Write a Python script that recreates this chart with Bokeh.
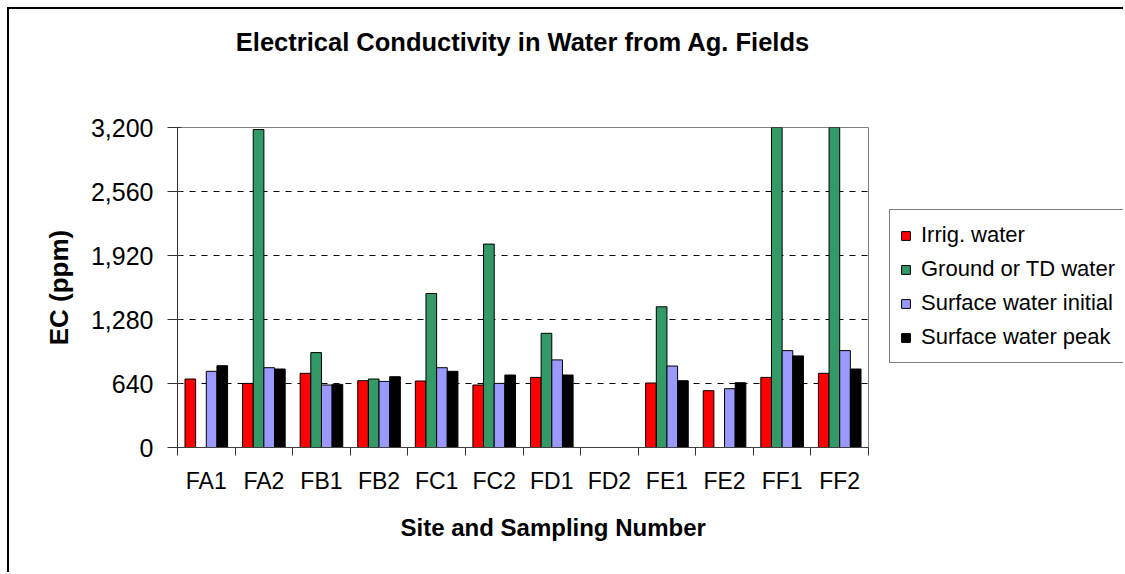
from bokeh.plotting import figure
from bokeh.layouts import row
from bokeh.models import (Range1d, FixedTicker, NumeralTickFormatter, Legend, LegendItem,
                          ColumnDataSource, LinearAxis, Title)
from bokeh.embed import file_html
from bokeh.resources import INLINE

sites = ["FA1", "FA2", "FB1", "FB2", "FC1", "FC2", "FD1", "FD2", "FE1", "FE2", "FF1", "FF2"]
irrig_water = [685, 641, 742, 668, 665, 625, 701, None, 645, 568, 701, 742]
ground_td_water = [None, 3180, 949, 685, 1540, 2034, 1142, None, 1407, None, 4000, 4000]
surface_initial = [762, 798, 625, 661, 798, 641, 876, None, 815, 588, 969, 969]
surface_peak = [818, 785, 631, 708, 762, 725, 725, None, 668, 648, 916, 785]

series_names = ["Irrig. water", "Ground or TD water", "Surface water initial", "Surface water peak"]
series_values = [irrig_water, ground_td_water, surface_initial, surface_peak]
series_colors = ["#FF0000", "#339966", "#9999FF", "#000000"]
y_ticks = [0, 640, 1280, 1920, 2560, 3200]

TITLE = "Electrical Conductivity in Water from Ag. Fields"
X_TITLE = "Site and Sampling  Number"
Y_TITLE = "EC (ppm)"
FONT = "Liberation Sans"
BAR_W = 0.185
offsets = [-1.5 * BAR_W, -0.5 * BAR_W, 0.5 * BAR_W, 1.5 * BAR_W]

H = 563
p = figure(width=880, height=H, output_backend="svg", toolbar_location=None,
           x_range=Range1d(0, len(sites)), y_range=Range1d(0, 3200),
           min_border_left=168, min_border_right=21, min_border_top=118, min_border_bottom=125)
p.title.text = ""
p.title.visible = False
p.background_fill_color = "white"
p.border_fill_color = "white"
p.outline_line_color = "#808080"
p.outline_line_width = 1

for name, vals, col, off in zip(series_names, series_values, series_colors, offsets):
    xs = [i + 0.5 + off for i, v in enumerate(vals) if v is not None]
    tops = [v for v in vals if v is not None]
    src = ColumnDataSource(dict(x=xs, top=tops))
    p.vbar(x="x", top="top", width=BAR_W, bottom=0, source=src,
           fill_color=col, line_color="black", line_width=1)

# grid
p.xgrid.visible = False
p.ygrid.ticker = FixedTicker(ticks=y_ticks[1:-1])
p.ygrid.grid_line_color = "black"
p.ygrid.grid_line_dash = "6 6"
p.ygrid.grid_line_width = 1

# y axis
ya = p.left[0]
ya.ticker = FixedTicker(ticks=y_ticks)
ya.formatter = NumeralTickFormatter(format="0,0")
ya.major_tick_out = 10
ya.major_tick_in = 4
ya.minor_tick_line_color = None
ya.axis_line_color = "#333333"
ya.major_tick_line_color = "#333333"
ya.major_label_text_font = FONT
ya.major_label_text_font_size = "25px"
ya.major_label_text_color = "black"
ya.major_label_standoff = 14
ya.axis_label = Y_TITLE
ya.axis_label_text_font = FONT
ya.axis_label_text_font_size = "26px"
ya.axis_label_text_font_style = "bold"
ya.axis_label_text_color = "black"
ya.axis_label_standoff = 14

# x axis
xa = p.below[0]
centers = [i + 0.5 for i in range(len(sites))]
xa.ticker = FixedTicker(ticks=centers, minor_ticks=list(range(len(sites) + 1)))
xa.major_label_overrides = {c: s for c, s in zip(centers, sites)}
xa.major_tick_line_color = None
xa.major_tick_out = 0
xa.major_tick_in = 0
xa.minor_tick_out = 8
xa.minor_tick_in = 0
xa.minor_tick_line_color = "#333333"
xa.axis_line_color = "#404040"
xa.major_label_text_font = FONT
xa.major_label_text_font_size = "23px"
xa.major_label_text_color = "black"
xa.major_label_standoff = 12

# x-axis title (placed slightly right of centre, as in the original)
x_title = Title(text=X_TITLE, align="left", offset=223, vertical_align="middle", standoff=32,
                text_font=FONT, text_font_size="24px", text_font_style="bold", text_color="black")
p.add_layout(x_title, "below")

# chart title drawn as the label of an empty axis above the plot area
top_axis = LinearAxis(ticker=FixedTicker(ticks=[]), axis_line_color=None,
                      major_tick_line_color=None, minor_tick_line_color=None,
                      major_tick_out=0, major_tick_in=0, minor_tick_out=0, minor_tick_in=0,
                      major_label_text_font_size="0px",
                      axis_label=TITLE, axis_label_text_font=FONT,
                      axis_label_text_font_size="25.5px", axis_label_text_font_style="bold",
                      axis_label_text_color="black", axis_label_standoff=72)
p.add_layout(top_axis, "above")

# legend panel: a second figure holding only the legend (cut at the right edge as in the original)
p2 = figure(width=234, height=H, output_backend="svg", toolbar_location=None,
            x_range=Range1d(0, 1), y_range=Range1d(0, 1), x_axis_type=None, y_axis_type=None,
            min_border=0, min_border_left=0, min_border_right=0, min_border_top=0, min_border_bottom=0)
p2.title.visible = False
p2.outline_line_color = None
p2.grid.visible = False
p2.background_fill_color = "white"
p2.border_fill_color = "white"
items = []
for name, col in zip(series_names, series_colors):
    # off-screen placeholder so the legend can show the series swatch
    r = p2.vbar(x=[5], top=[0], width=0.1, fill_color=col, line_color="black", line_width=1)
    items.append(LegendItem(label=name, renderers=[r]))
legend = Legend(items=items, location=(0, 84), orientation="vertical",
                border_line_color="black", border_line_width=1,
                background_fill_color="white", background_fill_alpha=1,
                label_text_font=FONT, label_text_font_size="22px", label_text_color="black",
                glyph_width=11, glyph_height=11, label_height=30, spacing=4,
                padding=10, label_standoff=10, margin=0)
p2.add_layout(legend, "center")

layout = row(p, p2)
layout.styles = {"margin-left": "7px", "margin-top": "7px",
                 "border-left": "2px solid black", "border-top": "2px solid black"}

open("out.html", "w").write(file_html(layout, INLINE))
